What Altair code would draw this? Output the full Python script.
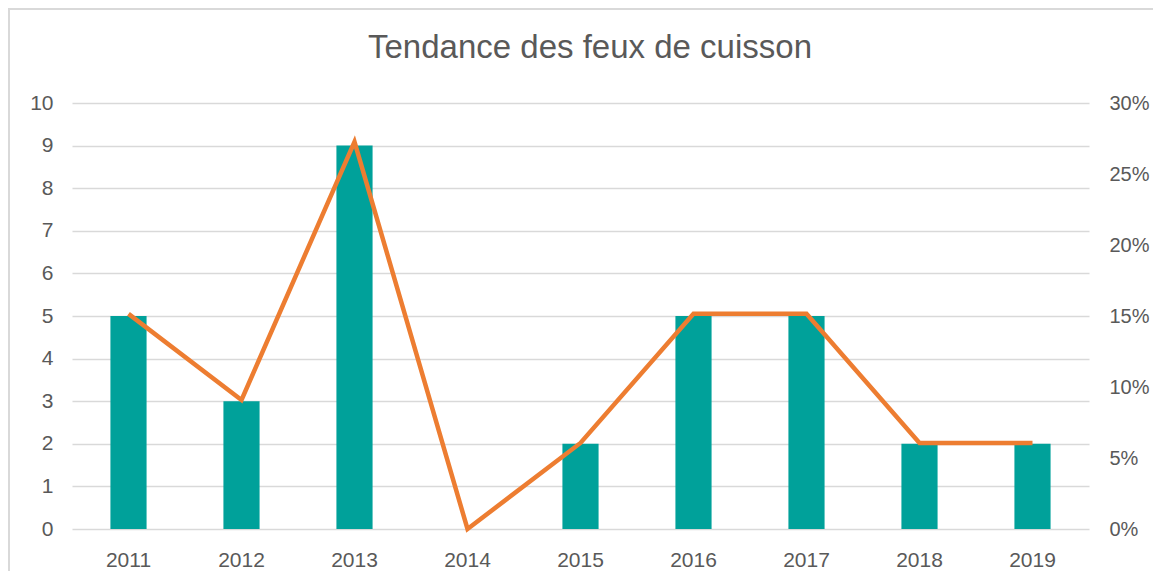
import altair as alt
import pandas as pd

years = ["2011", "2012", "2013", "2014", "2015", "2016", "2017", "2018", "2019"]
counts = [5, 3, 9, 0, 2, 5, 5, 2, 2]
shares = [0.1515, 0.0909, 0.2727, 0.0, 0.0606, 0.1515, 0.1515, 0.0606, 0.0606]
title_text = "Tendance des feux de cuisson"

df = pd.DataFrame({"year": years, "count": counts, "share": shares})

FONT = "Liberation Sans"
GRAY = "#595959"
W, H = 1017, 426

xenc = alt.X("year:N", sort=years, title=None,
             scale=alt.Scale(paddingInner=0.68, paddingOuter=0.34),
             axis=alt.Axis(labelAngle=0, ticks=False, domain=False, labelPadding=20,
                           labelFontSize=21, labelColor=GRAY, labelFont=FONT, grid=False))

bars = alt.Chart(df).mark_bar(color="#00A19A").encode(
    x=xenc,
    y=alt.Y("count:Q", title=None, scale=alt.Scale(domain=[0, 10]),
            axis=alt.Axis(values=list(range(11)), ticks=False, domain=False, labelPadding=19,
                          labelFontSize=21, labelColor=GRAY, labelFont=FONT,
                          gridColor="#D9D9D9", gridWidth=1.5, orient="left")),
)

line = alt.Chart(df).mark_line(color="#ED7D31", strokeWidth=4.5).encode(
    x=xenc,
    y=alt.Y("share:Q", title=None, scale=alt.Scale(domain=[0, 0.30]),
            axis=alt.Axis(values=[0, 0.05, 0.10, 0.15, 0.20, 0.25, 0.30], format=".0%",
                          ticks=False, domain=False, labelPadding=20, grid=False,
                          labelFontSize=20, labelColor=GRAY, labelFont=FONT, orient="right")),
)

frame = alt.Chart(df).mark_rect(fill=None, stroke="#D9D9D9", strokeWidth=1.5).encode(
    x=alt.value(-63), x2=alt.value(1120), y=alt.value(-94), y2=alt.value(520)
)

title = alt.Chart(pd.DataFrame({"t": [title_text]})).mark_text(
    font=FONT, fontSize=33, color=GRAY, align="center", baseline="middle"
).encode(text="t:N", x=alt.value(518), y=alt.value(-55))

chart = alt.layer(bars, line, frame, title).resolve_scale(y="independent").properties(
    width=W, height=H,
    padding={"left": 64, "top": 95, "right": 64, "bottom": 42},
    autosize=alt.AutoSizeParams(type="none"),
).configure_view(stroke=None)

chart.save("out.html", embed_options={"renderer": "svg", "actions": False})
